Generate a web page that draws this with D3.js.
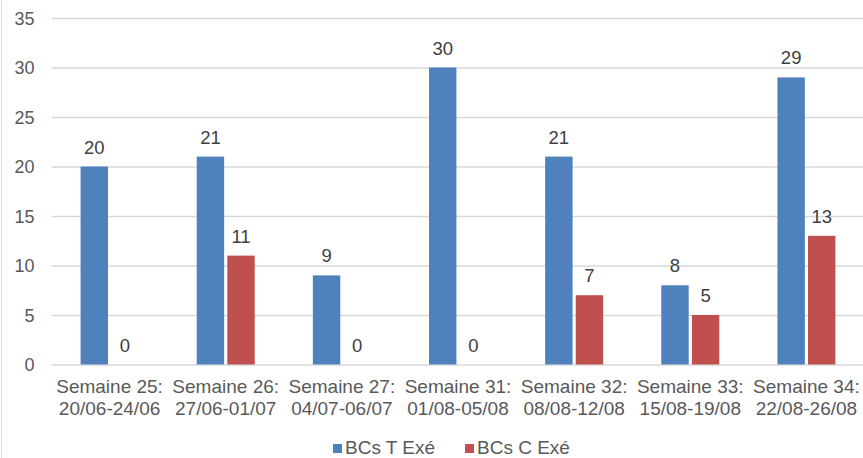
<!DOCTYPE html>
<html>
<head>
<meta charset="utf-8">
<script src="https://cdn.jsdelivr.net/npm/d3@7"></script>
<style>
  body { margin: 0; background: #fff; }
  svg { display: block; font-family: "Liberation Sans", Arial, sans-serif; }
</style>
</head>
<body>
<svg id="chart" width="863" height="458"></svg>
<script>
// data
var weeks = ["Semaine 25:", "Semaine 26:", "Semaine 27:", "Semaine 31:", "Semaine 32:", "Semaine 33:", "Semaine 34:"];
var dates = ["20/06-24/06", "27/06-01/07", "04/07-06/07", "01/08-05/08", "08/08-12/08", "15/08-19/08", "22/08-26/08"];
var seriesT = [20, 21, 9, 30, 21, 8, 29];
var seriesC = [0, 11, 0, 0, 7, 5, 13];
var seriesNames = ["BCs T Exé", "BCs C Exé"];
var colors = ["#4f81bd", "#c0504d"];
var yTicks = [0, 5, 10, 15, 20, 25, 30, 35];

var svg = d3.select("#chart");
var W = 863, H = 458;

// left frame line
svg.append("line")
	.attr("x1", 1.5).attr("x2", 1.5).attr("y1", 0).attr("y2", H)
	.attr("stroke", "#d9d9d9").attr("stroke-width", 1);

var x = d3.scaleBand().domain(d3.range(weeks.length)).range([51.5, 864.5]);
var y = d3.scaleLinear().domain([0, 35]).range([364.5, 18]);
var inner = d3.scaleBand().domain([0, 1]).range([-29, 29]).paddingInner(6 / 58);

var root = svg.append("g");

// grid
var yAxis = d3.axisLeft(y).tickValues(yTicks).tickSize(-(864.5 - 51.5)).tickPadding(17);
root.append("g")
	.attr("class", "yAxis")
	.attr("transform", "translate(51.5,0)")
	.call(yAxis)
	.call(function (g) {
		g.select(".domain").remove();
		g.selectAll(".tick line").attr("stroke", "#d9d9d9").attr("stroke-width", 1.5);
		g.selectAll(".tick text").attr("fill", "#595959").attr("font-size", 18).attr("dy", "0.35em");
	});

// bars
var data = [];
weeks.forEach(function (w, i) {
	data.push({ i: i, s: 0, v: seriesT[i] });
	data.push({ i: i, s: 1, v: seriesC[i] });
});

root.selectAll("rect.bar")
	.data(data)
	.enter().append("rect")
	.attr("class", "bar")
	.attr("x", function (d) { return x(d.i) + x.bandwidth() / 2 + inner(d.s); })
	.attr("width", inner.bandwidth())
	.attr("y", function (d) { return y(d.v); })
	.attr("height", function (d) { return y(0) - y(d.v); })
	.attr("fill", function (d) { return colors[d.s]; });

root.selectAll("text.val")
	.data(data)
	.enter().append("text")
	.attr("class", "val")
	.attr("x", function (d) { return x(d.i) + x.bandwidth() / 2 + inner(d.s) + inner.bandwidth() / 2; })
	.attr("y", function (d) { return y(d.v) - 13; })
	.attr("text-anchor", "middle")
	.attr("font-size", 18.5)
	.attr("fill", "#404040")
	.text(function (d) { return d.v; });

// x labels
var xl = root.selectAll("text.xl")
	.data(weeks)
	.enter().append("text")
	.attr("class", "xl")
	.attr("text-anchor", "middle")
	.attr("font-size", 19)
	.attr("fill", "#595959");
xl.append("tspan")
	.attr("x", function (d, i) { return x(i) + x.bandwidth() / 2; })
	.attr("y", 393)
	.text(function (d) { return d; });
xl.append("tspan")
	.attr("x", function (d, i) { return x(i) + x.bandwidth() / 2; })
	.attr("y", 415)
	.text(function (d, i) { return dates[i]; });

// legend
var legendX = [333, 465];
var leg = root.selectAll("g.leg")
	.data(seriesNames)
	.enter().append("g")
	.attr("class", "leg")
	.attr("transform", function (d, i) { return "translate(" + legendX[i] + ",444)"; });
leg.append("rect")
	.attr("width", 9).attr("height", 9)
	.attr("fill", function (d, i) { return colors[i]; });
leg.append("text")
	.attr("x", 12).attr("y", 9.5)
	.attr("font-size", 19)
	.attr("fill", "#595959")
	.text(function (d) { return d; });
</script>
</body>
</html>
